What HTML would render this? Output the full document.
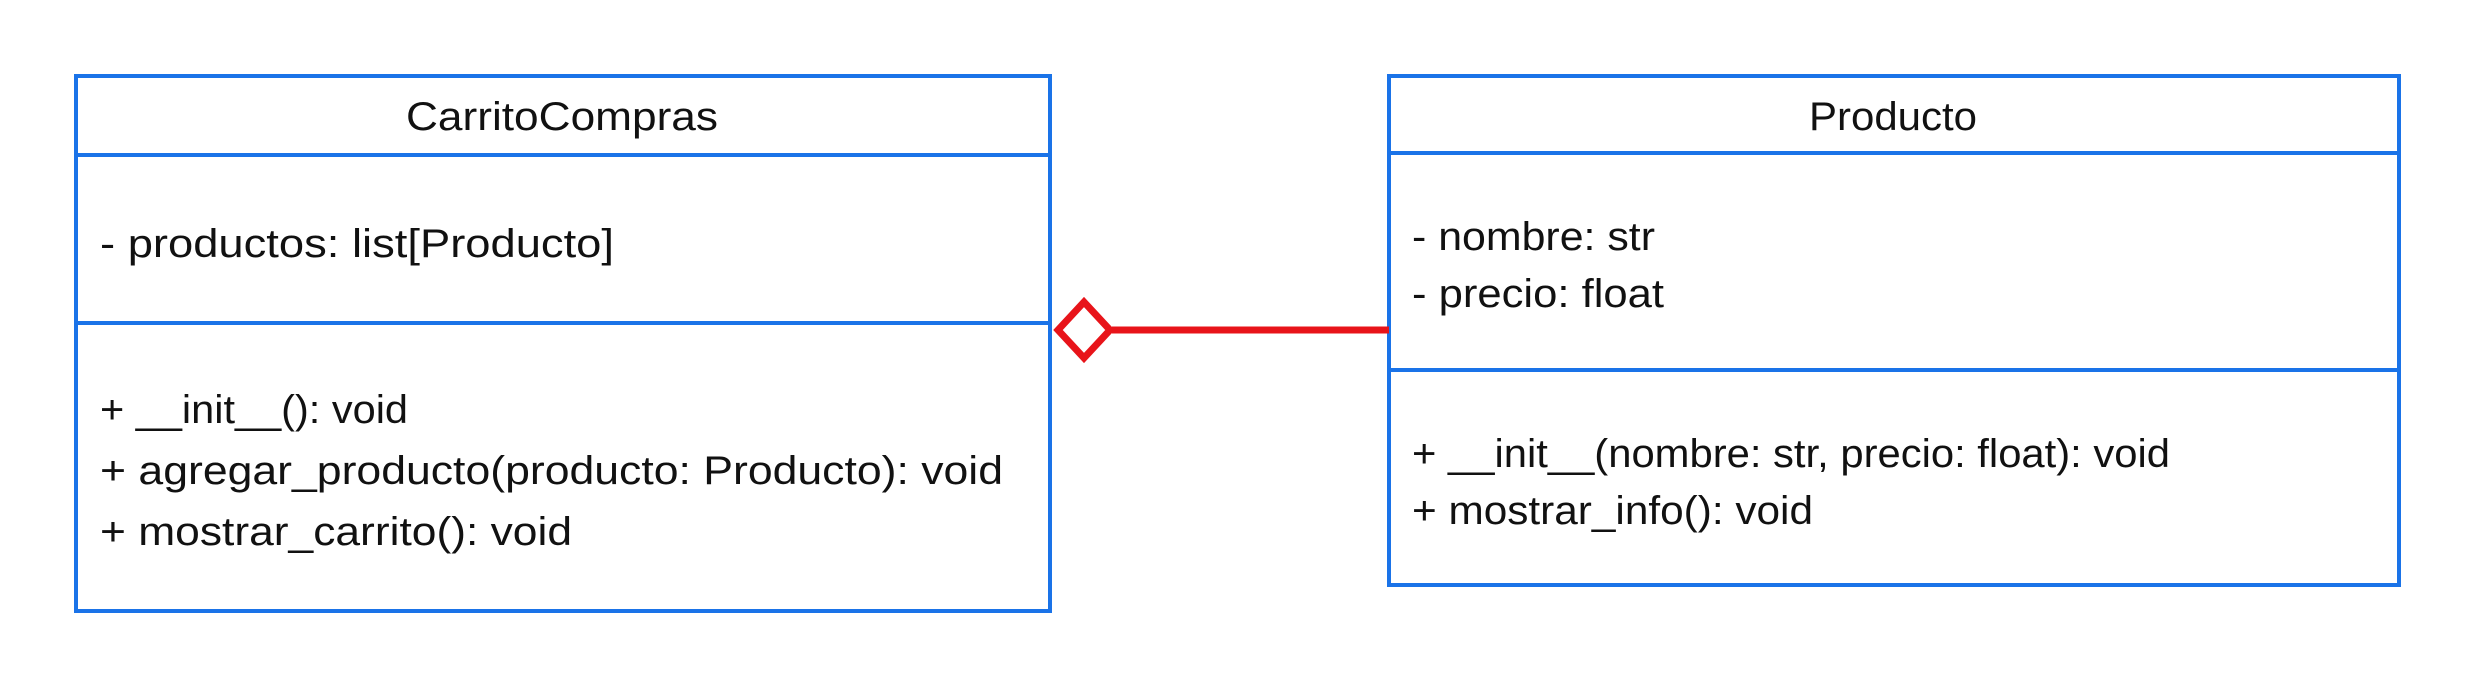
<!DOCTYPE html>
<html><head><meta charset="utf-8"><style>
html,body{margin:0;padding:0;background:#fff;}
svg{display:block;}
text{font-family:"Liberation Sans",sans-serif;font-size:40px;fill:#111;}
</style></head><body>
<svg width="2475" height="686" viewBox="0 0 2475 686" xmlns="http://www.w3.org/2000/svg">
<rect width="2475" height="686" fill="#fff"/>
<g fill="none" stroke="#1a73e8" stroke-width="4">
<rect x="76" y="76" width="974" height="535"/>
<line x1="76" y1="155" x2="1050" y2="155"/>
<line x1="76" y1="323" x2="1050" y2="323"/>
<rect x="1389" y="76" width="1010" height="509"/>
<line x1="1389" y1="153" x2="2399" y2="153"/>
<line x1="1389" y1="370" x2="2399" y2="370"/>
</g>
<line x1="1112" y1="330" x2="1389" y2="330" stroke="#e8141a" stroke-width="7"/>
<polygon points="1058,330 1084,302 1110,330 1084,358" fill="#fff" stroke="#e8141a" stroke-width="7"/>
<text x="406" y="130" textLength="312" lengthAdjust="spacingAndGlyphs">CarritoCompras</text>
<text x="100" y="257" textLength="514" lengthAdjust="spacingAndGlyphs">- productos: list[Producto]</text>
<text x="100" y="423" textLength="308" lengthAdjust="spacingAndGlyphs">+ __init__(): void</text>
<text x="100" y="484" textLength="903" lengthAdjust="spacingAndGlyphs">+ agregar_producto(producto: Producto): void</text>
<text x="100" y="545" textLength="472" lengthAdjust="spacingAndGlyphs">+ mostrar_carrito(): void</text>
<text x="1809" y="130" textLength="168" lengthAdjust="spacingAndGlyphs">Producto</text>
<text x="1412" y="250" textLength="243" lengthAdjust="spacingAndGlyphs">- nombre: str</text>
<text x="1412" y="307" textLength="252" lengthAdjust="spacingAndGlyphs">- precio: float</text>
<text x="1412" y="467" textLength="758" lengthAdjust="spacingAndGlyphs">+ __init__(nombre: str, precio: float): void</text>
<text x="1412" y="524" textLength="401" lengthAdjust="spacingAndGlyphs">+ mostrar_info(): void</text>
</svg>
</body></html>
